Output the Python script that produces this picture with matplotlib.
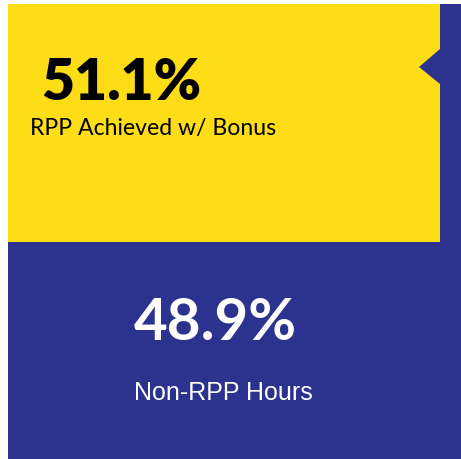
import matplotlib
matplotlib.use("Agg")
import matplotlib.pyplot as plt
from matplotlib.patches import Polygon

# data
labels = ["RPP Achieved w/ Bonus", "Non-RPP Hours"]
values = [51.1, 48.9]
colors = ["#FEDD16", "#2B338F"]

W, H = 461, 460
fig = plt.figure(figsize=(W / 100, H / 100), dpi=100)
fig.patch.set_facecolor("white")

# axes covers the card (small white margin left and top), runs a bit past the bottom edge
card_h = 466
ax = fig.add_axes([8 / W, (H - 5 - card_h) / H, 1 - 8 / W, card_h / H])
ax.set_xlim(0, 1)
ax.set_ylim(0, sum(values))
ax.axis("off")
ax.add_patch(plt.Rectangle((0, 0), 1, 1, transform=ax.transAxes,
                           color=colors[1], zorder=0))

# stacked: blue at the bottom, yellow above
bar_w = 432 / 453
ax.bar(0, values[1], width=bar_w, bottom=0, align="edge", color=colors[1], zorder=1)
ax.bar(0, values[0], width=bar_w, bottom=values[1], align="edge", color=colors[0], zorder=1)

# little pointer notch on the right edge of the yellow block
def ay(y):
    return 1 - (y - 5) / card_h

notch = Polygon([(bar_w, ay(50)), (bar_w - 21 / 453, ay(68)), (bar_w, ay(85))],
                closed=True, transform=ax.transAxes, color=colors[1], zorder=2, lw=0)
ax.add_patch(notch)

def px(x, y):
    return x / W, 1 - y / H

fig.text(*px(41, 100), f"{values[0]:.1f}%", fontsize=41, fontweight="heavy",
         family="Lato", color="black", ha="left", va="baseline")
fig.text(*px(30, 135), labels[0], fontsize=16.6, family="Lato",
         color="black", ha="left", va="baseline")
fig.text(*px(215, 340), f"{values[1]:.1f}%", fontsize=42, fontweight="bold",
         family="Lato", color="white", ha="center", va="baseline")
fig.text(*px(223, 400), labels[1], fontsize=18, family="Liberation Sans",
         color="white", ha="center", va="baseline")

fig.savefig("out.png", dpi=100)
